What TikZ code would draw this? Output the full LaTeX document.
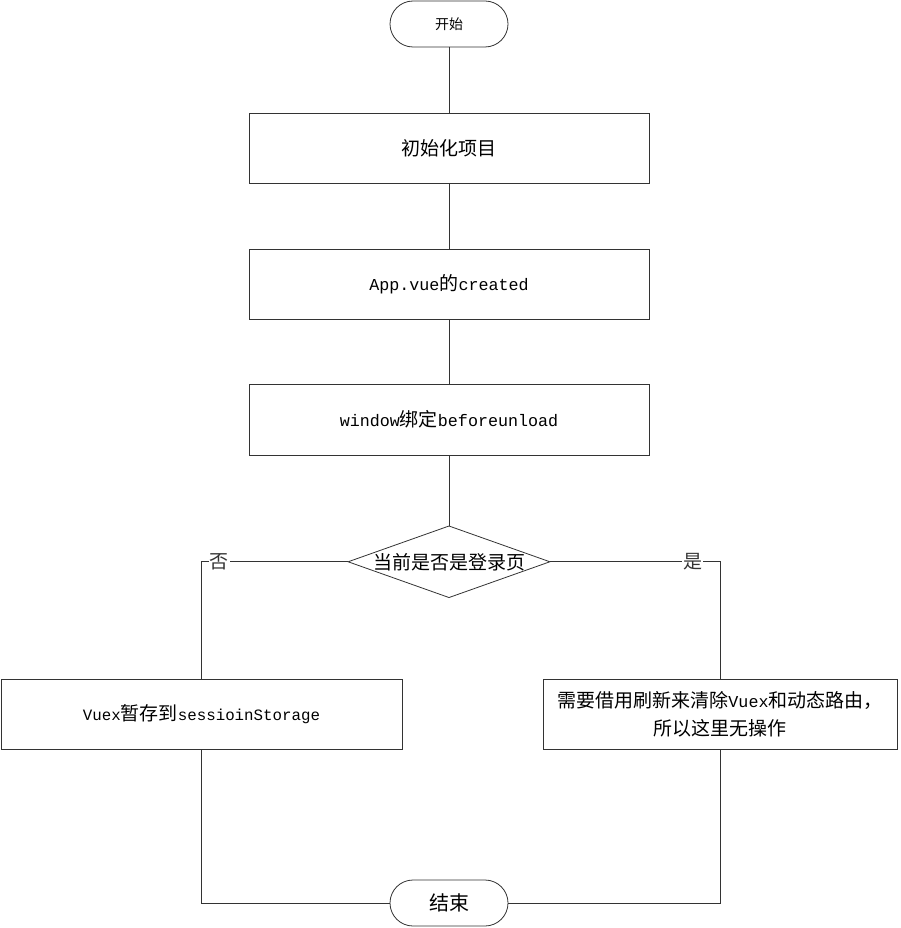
\documentclass[tikz,border=0pt]{standalone}
\usepackage{fontspec}
\setmainfont{Noto Sans CJK SC}
\setmonofont{Liberation Mono}
\usepackage{tikz}
\usetikzlibrary{shapes.geometric, positioning}
\def\lat#1{{\fontsize{16.7}{20}\ttfamily #1}}
\def\slat#1{{\fontsize{15.8}{20}\ttfamily #1}}

\begin{document}
\begin{tikzpicture}[x=1pt, y=1pt, node distance=66pt, font=\fontsize{19}{28}\selectfont,
	box/.style={draw, black!80, line width=0.8pt, rectangle, minimum width=400pt, minimum height=70pt, text=black, inner sep=0pt, outer sep=0pt},
	term/.style={draw, black!80, line width=0.8pt, rectangle, rounded corners=23pt, minimum width=118pt, minimum height=46pt, text=black, inner sep=0pt, outer sep=0pt},
	link/.style={black!80, line width=0.8pt}]
		\useasboundingbox (0,0) rectangle (901,-928);
		
		% Nodes
		\node[term, font=\fontsize{14}{16}\selectfont] (start) at (449,-24) {开始};
		
		\node[box, below=of start] (init) {初始化项目};
		
		\node[box, below=of init] (app) {\lat{App.vue}的\lat{created}};
		
		\node[box, below=65pt of app, minimum height=71pt] (win) {\lat{window}绑定\lat{beforeunload}};
		
		\node[draw, black!80, line width=0.8pt, diamond, aspect=2.82, minimum width=200pt, minimum height=71pt, inner sep=0pt, outer sep=0pt, text=black, below=71pt of win] (login) {当前是否是登录页};
		
		\node[box, minimum width=401pt] (store) at (201.5,-714) {\slat{Vuex}暂存到\slat{sessioinStorage}};
		
		\node[box, minimum width=354pt, align=center] (none) at (720,-714) {需要借用刷新来清除\lat{Vuex}和动态路由，\\所以这里无操作};
		
		\node[term, font=\fontsize{20}{22}\selectfont] (end) at (449,-903) {结束};
		
		% Arrows
		\draw[link] (start) -- (init);
		\draw[link] (init) -- (app);
		\draw[link] (app) -- (win);
		\draw[link] (win) -- (login);
		\draw[link] (login.west) -| (store.north) node[pos=0.44, fill=white, inner sep=1pt] {否};
		\draw[link] (login.east) -| (none.north) node[pos=0.42, fill=white, inner sep=1pt] {是};
		\draw[link] (store.south) |- (end.west);
		\draw[link] (none.south) |- (end.east);
		
\end{tikzpicture}
\end{document}
